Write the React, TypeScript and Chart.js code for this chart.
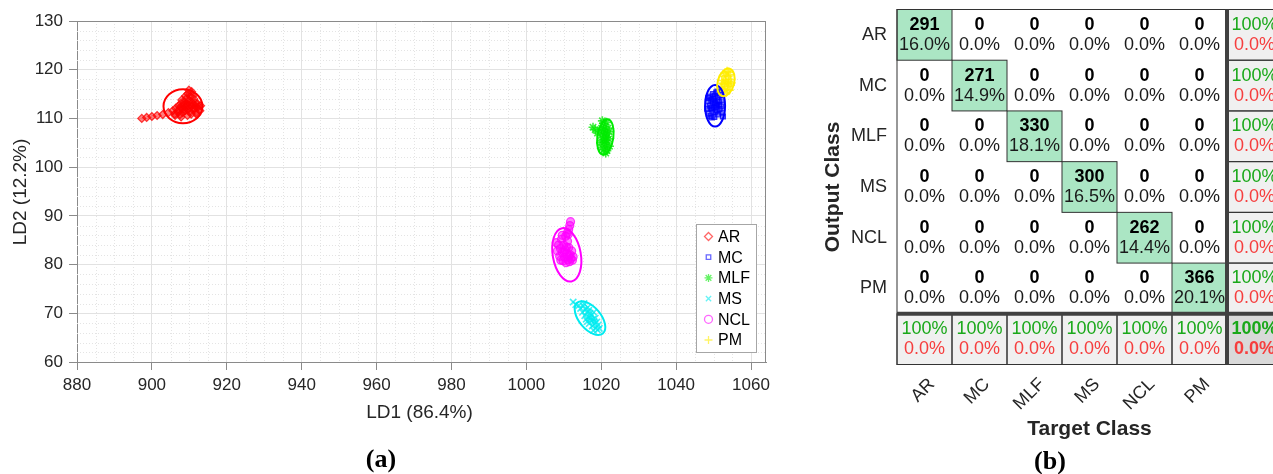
import React, { useEffect, useRef } from 'react';
import { Chart, registerables } from 'chart.js';

Chart.register(...registerables);

const FONT = '"Liberation Sans", Arial, Helvetica, sans-serif';
const SERIF = '"Liberation Serif", "Times New Roman", serif';

// ---------- Panel (a): LDA scatter ----------
const CLASSES = ['AR', 'MC', 'MLF', 'MS', 'NCL', 'PM'];
const X_MIN = 880;
const X_MAX = 1064;
const X_STEP = 20;
const X_MINOR = 5;
const Y_MIN = 60;
const Y_MAX = 130;
const Y_STEP = 10;
const Y_MINOR = 2;
const X_TITLE = 'LD1 (86.4%)';
const Y_TITLE = 'LD2 (12.2%)';

const AR_POINTS = [
  [897.3, 110.0], [898.6, 110.2], [900.0, 110.4], [901.4, 110.6], [902.9, 110.8], [904.4, 111.2],
  [905.6, 111.6], [906.1, 110.9], [906.4, 112.1], [906.9, 111.4], [907.1, 112.6], [907.3, 111.8],
  [907.5, 110.8], [907.8, 113.1], [908.0, 112.0], [908.2, 111.2], [908.5, 112.8], [908.7, 113.4],
  [908.9, 111.6], [909.0, 112.3], [909.2, 114.1], [909.4, 113.0], [909.5, 110.6], [909.6, 115.1],
  [909.8, 112.0], [910.0, 113.6], [910.1, 111.4], [910.3, 114.5], [910.5, 112.5], [910.6, 115.5],
  [910.8, 113.2], [911.0, 111.8], [911.2, 114.0], [911.4, 112.6], [911.6, 113.2], [911.8, 111.2],
  [912.0, 112.3], [912.2, 113.0], [912.5, 112.4], [912.8, 111.6], [913.0, 112.6], [912.0, 110.8],
  [906.2, 110.6], [907.8, 110.3], [910.5, 110.9], [909.0, 114.6], [908.0, 113.8], [909.9, 115.8],
  [910.9, 114.6], [908.6, 111.9], [909.3, 112.7], [910.2, 112.9], [911.3, 112.1], [907.6, 112.3],
];
const MC_POINTS = [
  [1048.3, 112.0], [1048.5, 113.5], [1048.7, 111.0], [1049.0, 114.5], [1049.0, 112.6], [1049.2, 110.5],
  [1049.4, 113.8], [1049.6, 111.8], [1049.8, 115.0], [1050.0, 112.2], [1050.0, 114.0], [1050.2, 110.3],
  [1050.4, 113.2], [1050.5, 111.4], [1050.7, 115.3], [1050.9, 112.7], [1051.1, 114.3], [1051.2, 110.8],
  [1051.4, 113.5], [1051.6, 111.9], [1051.8, 114.8], [1052.0, 112.5], [1052.2, 113.8], [1052.3, 111.2],
  [1052.5, 110.4], [1049.5, 110.2], [1051.0, 115.5], [1048.6, 114.2], [1049.9, 113.4], [1050.6, 112.9],
  [1049.3, 112.1], [1050.8, 111.6], [1051.5, 112.8], [1050.3, 114.6],
];
const MLF_POINTS = [
  [1019.8, 105.0], [1020.0, 106.5], [1020.1, 108.0], [1020.2, 104.0], [1020.4, 107.2], [1020.5, 105.6],
  [1020.6, 109.0], [1020.7, 103.6], [1020.9, 106.3], [1021.0, 108.3], [1021.0, 104.7], [1021.2, 107.0],
  [1021.3, 105.5], [1021.4, 109.2], [1021.5, 103.4], [1021.6, 106.8], [1021.7, 104.4], [1021.8, 108.0],
  [1022.0, 105.8], [1022.1, 107.3], [1022.2, 104.3], [1020.3, 109.5], [1021.2, 102.9], [1017.8, 108.2],
  [1018.4, 107.7], [1019.0, 107.0], [1020.8, 105.1], [1021.4, 106.1], [1020.6, 107.7],
];
const MS_POINTS = [
  [1014.5, 71.0], [1015.0, 70.2], [1015.2, 71.5], [1015.6, 69.5], [1015.8, 70.8], [1016.0, 68.8],
  [1016.2, 70.2], [1016.4, 71.2], [1016.6, 69.2], [1016.8, 67.9], [1017.0, 70.0], [1017.2, 68.6],
  [1017.4, 69.6], [1017.6, 67.4], [1017.8, 68.8], [1018.0, 70.2], [1018.2, 67.8], [1018.4, 69.0],
  [1018.6, 67.0], [1018.8, 68.2], [1019.0, 66.6], [1019.2, 67.6], [1019.5, 66.9], [1016.3, 68.3],
  [1017.9, 66.5], [1015.4, 72.0], [1012.5, 72.3], [1013.2, 71.8], [1014.0, 71.6], [1017.1, 69.1],
  [1016.7, 70.6], [1018.1, 68.3],
];
const NCL_POINTS = [
  [1008.0, 84.5], [1008.3, 82.8], [1008.6, 84.0], [1008.9, 81.7], [1009.1, 83.3], [1009.4, 85.2],
  [1009.6, 82.5], [1009.8, 80.8], [1010.0, 84.0], [1010.2, 81.5], [1010.4, 83.0], [1010.6, 80.4],
  [1010.8, 82.2], [1011.0, 84.8], [1011.1, 81.0], [1011.3, 83.5], [1011.5, 80.6], [1011.7, 82.0],
  [1011.9, 81.2], [1012.1, 82.8], [1012.3, 80.9], [1010.5, 85.8], [1010.9, 86.5], [1011.3, 87.2],
  [1011.6, 88.0], [1011.8, 88.8], [1011.2, 86.2], [1009.6, 86.0], [1012.5, 81.6], [1009.2, 80.9],
  [1010.1, 82.6], [1010.7, 83.6], [1011.4, 81.8],
];
const PM_POINTS = [
  [1052.0, 116.5], [1052.2, 117.8], [1052.4, 115.6], [1052.6, 118.6], [1052.8, 117.0], [1053.0, 119.3],
  [1053.0, 116.0], [1053.2, 118.0], [1053.4, 115.3], [1053.5, 117.3], [1053.6, 119.7], [1053.8, 116.5],
  [1053.9, 118.6], [1054.1, 117.6], [1054.2, 115.8], [1054.4, 119.0], [1054.5, 116.8], [1054.6, 118.0],
  [1052.5, 117.2], [1053.3, 118.8], [1053.7, 115.9], [1054.0, 119.5], [1052.2, 116.2], [1054.7, 117.3],
  [1053.1, 117.6], [1053.9, 117.1],
];

// confidence ellipses: centre, semi-axes (data units), tilt (deg)
const ELLIPSE_CX = [908.3, 1050.4, 1021.1, 1017.0, 1010.8, 1053.3];
const ELLIPSE_CY = [112.5, 112.6, 106.2, 69.0, 82.0, 117.4];
const ELLIPSE_RX = [5.2, 2.67, 2.14, 2.9, 3.74, 2.2];
const ELLIPSE_RY = [3.5, 4.28, 3.66, 4.1, 5.54, 2.9];
const ELLIPSE_TILT = [0, 0, 8, -40, -10, 15];

const SERIES = [AR_POINTS, MC_POINTS, MLF_POINTS, MS_POINTS, NCL_POINTS, PM_POINTS];
const SERIES_COLOR = ['255,0,0', '0,0,255', '0,235,0', '0,235,240', '255,0,255', '255,236,0'];
const SERIES_STYLE = ['rectRot', 'rect', 'star', 'crossRot', 'circle', 'cross'];

// ---------- Panel (b): confusion matrix ----------
const CONFUSION = [
  [291, 0, 0, 0, 0, 0],
  [0, 271, 0, 0, 0, 0],
  [0, 0, 330, 0, 0, 0],
  [0, 0, 0, 300, 0, 0],
  [0, 0, 0, 0, 262, 0],
  [0, 0, 0, 0, 0, 366],
];
const OUTPUT_TITLE = 'Output Class';
const TARGET_TITLE = 'Target Class';

function fmtPct(v: number) {
  if (Math.abs(v - 100) < 1e-9) return '100%';
  return v.toFixed(1) + '%';
}

function drawMarker(ctx: CanvasRenderingContext2D, style: string, x: number, y: number, r: number) {
  ctx.beginPath();
  switch (style) {
    case 'rectRot':
      ctx.moveTo(x, y - r); ctx.lineTo(x + r, y); ctx.lineTo(x, y + r); ctx.lineTo(x - r, y); ctx.closePath();
      break;
    case 'rect':
      ctx.rect(x - r * 0.75, y - r * 0.75, r * 1.5, r * 1.5);
      break;
    case 'star': {
      const d = r * 0.707;
      ctx.moveTo(x - r, y); ctx.lineTo(x + r, y); ctx.moveTo(x, y - r); ctx.lineTo(x, y + r);
      ctx.moveTo(x - d, y - d); ctx.lineTo(x + d, y + d); ctx.moveTo(x - d, y + d); ctx.lineTo(x + d, y - d);
      break;
    }
    case 'crossRot': {
      const d = r * 0.75;
      ctx.moveTo(x - d, y - d); ctx.lineTo(x + d, y + d); ctx.moveTo(x - d, y + d); ctx.lineTo(x + d, y - d);
      break;
    }
    case 'circle':
      ctx.arc(x, y, r, 0, Math.PI * 2);
      break;
    case 'cross':
      ctx.moveTo(x - r, y); ctx.lineTo(x + r, y); ctx.moveTo(x, y - r); ctx.lineTo(x, y + r);
      break;
  }
  ctx.stroke();
}

const scatterDecor = {
  id: 'scatterDecor',
  beforeDatasetsDraw(chart: any) {
    const { ctx, chartArea: a, scales } = chart;
    const x = scales.x;
    const y = scales.y;
    ctx.save();
    ctx.strokeStyle = '#e4e4e4';
    ctx.lineWidth = 1;
    ctx.setLineDash([1, 2]);
    for (let v = X_MIN + X_MINOR; v < X_MAX; v += X_MINOR) {
      if (v % X_STEP === 0) continue;
      const px = Math.round(x.getPixelForValue(v)) + 0.5;
      ctx.beginPath(); ctx.moveTo(px, a.top); ctx.lineTo(px, a.bottom); ctx.stroke();
    }
    for (let v = Y_MIN + Y_MINOR; v < Y_MAX; v += Y_MINOR) {
      if (v % Y_STEP === 0) continue;
      const py = Math.round(y.getPixelForValue(v)) + 0.5;
      ctx.beginPath(); ctx.moveTo(a.left, py); ctx.lineTo(a.right, py); ctx.stroke();
    }
    ctx.restore();
  },
  afterDatasetsDraw(chart: any) {
    const { ctx, scales } = chart;
    const x = scales.x;
    const y = scales.y;
    ctx.save();
    ctx.lineWidth = 2;
    for (let i = 0; i < CLASSES.length; i++) {
      const cx = x.getPixelForValue(ELLIPSE_CX[i]);
      const cy = y.getPixelForValue(ELLIPSE_CY[i]);
      const rx = Math.abs(x.getPixelForValue(ELLIPSE_CX[i] + ELLIPSE_RX[i]) - cx);
      const ry = Math.abs(y.getPixelForValue(ELLIPSE_CY[i] + ELLIPSE_RY[i]) - cy);
      ctx.strokeStyle = `rgb(${SERIES_COLOR[i]})`;
      ctx.beginPath();
      ctx.ellipse(cx, cy, rx, ry, (ELLIPSE_TILT[i] * Math.PI) / 180, 0, Math.PI * 2);
      ctx.stroke();
    }
    ctx.restore();
  },
  afterDraw(chart: any) {
    const { ctx, chartArea: a } = chart;
    ctx.save();
    // box top / right
    ctx.strokeStyle = '#8a8a8a';
    ctx.lineWidth = 1;
    ctx.beginPath();
    ctx.moveTo(a.left, Math.round(a.top) + 0.5); ctx.lineTo(a.right, Math.round(a.top) + 0.5);
    ctx.moveTo(Math.round(a.right) - 0.5, a.top); ctx.lineTo(Math.round(a.right) - 0.5, a.bottom);
    ctx.stroke();

    // legend
    const lx = 696.5, ly = 224.5, lw = 60, lh = 128;
    ctx.fillStyle = '#ffffff';
    ctx.fillRect(lx, ly, lw, lh);
    ctx.strokeStyle = '#a6a6a6';
    ctx.strokeRect(lx, ly, lw, lh);
    ctx.font = `16px ${FONT}`;
    ctx.textBaseline = 'middle';
    ctx.textAlign = 'left';
    for (let i = 0; i < CLASSES.length; i++) {
      const yy = 236.5 + i * 20.7;
      ctx.strokeStyle = `rgba(${SERIES_COLOR[i]},0.6)`;
      ctx.lineWidth = 1.3;
      const r = SERIES_STYLE[i] === 'rect' ? 3 : SERIES_STYLE[i] === 'crossRot' ? 3.5 : 4;
      drawMarker(ctx, SERIES_STYLE[i], 708.5, yy, r);
      ctx.fillStyle = '#000000';
      ctx.fillText(CLASSES[i], 718, yy + 1);
    }

    // axis titles
    ctx.fillStyle = '#262626';
    ctx.font = `19px ${FONT}`;
    ctx.textAlign = 'center';
    ctx.textBaseline = 'middle';
    ctx.fillText(X_TITLE, (a.left + a.right) / 2 - 2, 413);
    ctx.save();
    ctx.translate(21, 192);
    ctx.rotate(-Math.PI / 2);
    ctx.fillText(Y_TITLE, 0, 0);
    ctx.restore();

    // panel label
    ctx.fillStyle = '#000000';
    ctx.font = `bold 26px ${SERIF}`;
    ctx.fillText('(a)', 381, 460);
    ctx.restore();
  },
};

const matrixDecor = {
  id: 'matrixDecor',
  afterDraw(chart: any) {
    const { ctx, scales } = chart;
    const X = (v: number) => scales.x.getPixelForValue(v);
    const Y = (v: number) => scales.y.getPixelForValue(v);
    const n = CLASSES.length;
    const total = CONFUSION.reduce((s, r) => s + r.reduce((t, v) => t + v, 0), 0);
    const trace = CONFUSION.reduce((s, r, i) => s + r[i], 0);
    const rowSum = CONFUSION.map((r) => r.reduce((t, v) => t + v, 0));
    const colSum = CLASSES.map((_, j) => CONFUSION.reduce((t, r) => t + r[j], 0));
    const GREEN_FILL = '#abe6c4';
    const GRAY = '#f0f0f0';
    const DARK_GRAY = '#d9d9d9';
    const TXT_GREEN = '#1aa81a';
    const TXT_RED = '#f63e3e';

    ctx.save();
    // fills
    for (let i = 0; i < n; i++) {
      for (let j = 0; j < n; j++) {
        const v = CONFUSION[i][j];
        if (v > 0) {
          ctx.fillStyle = i === j ? GREEN_FILL : '#f9c8c4';
          ctx.fillRect(X(j), Y(i), X(j + 1) - X(j), Y(i + 1) - Y(i));
        }
      }
      ctx.fillStyle = GRAY;
      ctx.fillRect(X(n), Y(i), X(n + 1) - X(n), Y(i + 1) - Y(i));
      ctx.fillRect(X(i), Y(n), X(i + 1) - X(i), Y(n + 1) - Y(n));
    }
    ctx.fillStyle = DARK_GRAY;
    ctx.fillRect(X(n), Y(n), X(n + 1) - X(n), Y(n + 1) - Y(n));

    // thin lines
    ctx.strokeStyle = '#333333';
    ctx.lineWidth = 1;
    ctx.strokeRect(X(0), Y(0), X(n + 1) - X(0), Y(n + 1) - Y(0));
    for (let i = 0; i < n; i++) {
      for (let j = 0; j < n; j++) {
        if (CONFUSION[i][j] > 0) ctx.strokeRect(X(j), Y(i), X(j + 1) - X(j), Y(i + 1) - Y(i));
      }
      ctx.strokeRect(X(n), Y(i), X(n + 1) - X(n), Y(i + 1) - Y(i));
      ctx.strokeRect(X(i), Y(n), X(i + 1) - X(i), Y(n + 1) - Y(n));
    }
    // thick separators
    ctx.strokeStyle = '#404040';
    ctx.lineWidth = 4;
    ctx.beginPath();
    ctx.moveTo(X(n), Y(0)); ctx.lineTo(X(n), Y(n + 1));
    ctx.moveTo(X(0), Y(n)); ctx.lineTo(X(n + 1), Y(n));
    ctx.stroke();

    // cell texts
    ctx.textAlign = 'center';
    ctx.textBaseline = 'middle';
    for (let i = 0; i < n; i++) {
      const yc = (Y(i) + Y(i + 1)) / 2;
      for (let j = 0; j < n; j++) {
        const xc = (X(j) + X(j + 1)) / 2;
        const v = CONFUSION[i][j];
        ctx.fillStyle = '#000000';
        ctx.font = `bold 18px ${FONT}`;
        ctx.fillText(String(v), xc, yc - 10);
        ctx.fillStyle = '#1a1a1a';
        ctx.font = `18px ${FONT}`;
        ctx.fillText(fmtPct((v / total) * 100), xc, yc + 10);
      }
      // row summary
      const xs = (X(n) + X(n + 1)) / 2;
      const p = rowSum[i] ? (CONFUSION[i][i] / rowSum[i]) * 100 : 0;
      ctx.font = `18px ${FONT}`;
      ctx.fillStyle = TXT_GREEN;
      ctx.fillText(fmtPct(p), xs, yc - 10);
      ctx.fillStyle = TXT_RED;
      ctx.fillText(fmtPct(100 - p), xs, yc + 10);
    }
    const ysum = (Y(n) + Y(n + 1)) / 2;
    for (let j = 0; j < n; j++) {
      const xc = (X(j) + X(j + 1)) / 2;
      const p = colSum[j] ? (CONFUSION[j][j] / colSum[j]) * 100 : 0;
      ctx.font = `18px ${FONT}`;
      ctx.fillStyle = TXT_GREEN;
      ctx.fillText(fmtPct(p), xc, ysum - 10);
      ctx.fillStyle = TXT_RED;
      ctx.fillText(fmtPct(100 - p), xc, ysum + 10);
    }
    const po = (trace / total) * 100;
    const xo = (X(n) + X(n + 1)) / 2;
    ctx.font = `bold 18px ${FONT}`;
    ctx.fillStyle = TXT_GREEN;
    ctx.fillText(fmtPct(po), xo, ysum - 10);
    ctx.fillStyle = TXT_RED;
    ctx.fillText(fmtPct(100 - po), xo, ysum + 10);

    // row labels
    ctx.fillStyle = '#262626';
    ctx.font = `18px ${FONT}`;
    ctx.textAlign = 'right';
    for (let i = 0; i < n; i++) {
      ctx.fillText(CLASSES[i], X(0) - 10, (Y(i) + Y(i + 1)) / 2);
    }
    // column labels (rotated)
    for (let j = 0; j < n; j++) {
      const xc = (X(j) + X(j + 1)) / 2;
      ctx.save();
      ctx.translate(xc + 7.5, Y(n + 1) + 17);
      ctx.rotate(-Math.PI / 4);
      ctx.textAlign = 'right';
      ctx.fillText(CLASSES[j], 0, 0);
      ctx.restore();
    }
    // axis titles
    ctx.font = `bold 21px ${FONT}`;
    ctx.textAlign = 'center';
    ctx.fillText(TARGET_TITLE, (X(0) + X(n + 1)) / 2, 429);
    ctx.save();
    ctx.translate(33, (Y(0) + Y(n + 1)) / 2);
    ctx.rotate(-Math.PI / 2);
    ctx.fillText(OUTPUT_TITLE, 0, 0);
    ctx.restore();

    // panel label
    ctx.fillStyle = '#000000';
    ctx.font = `bold 26px ${SERIF}`;
    ctx.fillText('(b)', 250, 462);
    ctx.restore();
  },
};

export default function App() {
  const leftRef = useRef<HTMLCanvasElement>(null);
  const rightRef = useRef<HTMLCanvasElement>(null);

  useEffect(() => {
    const datasets = CLASSES.map((name, i) => {
      const lineStyle = ['star', 'crossRot', 'cross'].includes(SERIES_STYLE[i]);
      return {
        label: name,
        data: SERIES[i].map(([x, y]) => ({ x, y })),
        pointStyle: SERIES_STYLE[i] as any,
        pointRadius: lineStyle ? 4.5 : SERIES_STYLE[i] === 'rect' ? 3.5 : 4,
        pointBorderWidth: lineStyle ? 1.6 : 1.2,
        borderColor: `rgba(${SERIES_COLOR[i]},0.75)`,
        backgroundColor: `rgba(${SERIES_COLOR[i]},0.5)`,
        pointBorderColor: `rgba(${SERIES_COLOR[i]},0.75)`,
        pointBackgroundColor: `rgba(${SERIES_COLOR[i]},0.5)`,
        showLine: false,
      };
    });

    const left = new Chart(leftRef.current as HTMLCanvasElement, {
      type: 'scatter',
      data: { datasets },
      options: {
        responsive: false,
        animation: false,
        layout: { padding: { left: 0, top: 21, right: 34, bottom: 0 } },
        plugins: { legend: { display: false }, tooltip: { enabled: false } },
        scales: {
          x: {
            type: 'linear',
            min: X_MIN,
            max: X_MAX,
            afterFit: (s: any) => { s.height = 112; },
            ticks: {
              stepSize: X_STEP,
              includeBounds: false,
              autoSkip: false,
              maxRotation: 0,
              padding: 5,
              color: '#262626',
              font: { size: 17, family: FONT },
              callback: (v: any) => String(v),
            },
            grid: { color: '#e2e2e2', tickColor: '#8a8a8a', tickLength: 8 },
            border: { color: '#8a8a8a', width: 1 },
          },
          y: {
            type: 'linear',
            min: Y_MIN,
            max: Y_MAX,
            afterFit: (s: any) => { s.width = 77; },
            ticks: {
              stepSize: Y_STEP,
              includeBounds: false,
              autoSkip: false,
              padding: 6,
              color: '#262626',
              font: { size: 17, family: FONT },
              callback: (v: any) => String(v),
            },
            grid: { color: '#e2e2e2', tickColor: '#8a8a8a', tickLength: 8 },
            border: { color: '#8a8a8a', width: 1 },
          },
        },
      } as any,
      plugins: [scatterDecor],
    });

    const right = new Chart(rightRef.current as HTMLCanvasElement, {
      type: 'scatter',
      data: { datasets: [] },
      options: {
        responsive: false,
        animation: false,
        layout: { padding: { left: 97, top: 9.5, right: 8, bottom: 109.5 } },
        plugins: { legend: { display: false }, tooltip: { enabled: false } },
        scales: {
          x: { type: 'linear', min: 0, max: 7, display: false },
          y: { type: 'linear', min: 0, max: 7, reverse: true, display: false },
        },
      } as any,
      plugins: [matrixDecor],
    });

    return () => {
      left.destroy();
      right.destroy();
    };
  }, []);

  return (
    <div
      style={{
        position: 'absolute',
        left: 0,
        top: 0,
        width: 1273,
        height: 474,
        overflow: 'hidden',
        background: '#ffffff',
      }}
    >
      <canvas
        ref={leftRef}
        width={800}
        height={474}
        style={{ position: 'absolute', left: 0, top: 0, width: 800, height: 474 }}
      />
      <canvas
        ref={rightRef}
        width={490}
        height={474}
        style={{ position: 'absolute', left: 800, top: 0, width: 490, height: 474 }}
      />
    </div>
  );
}
